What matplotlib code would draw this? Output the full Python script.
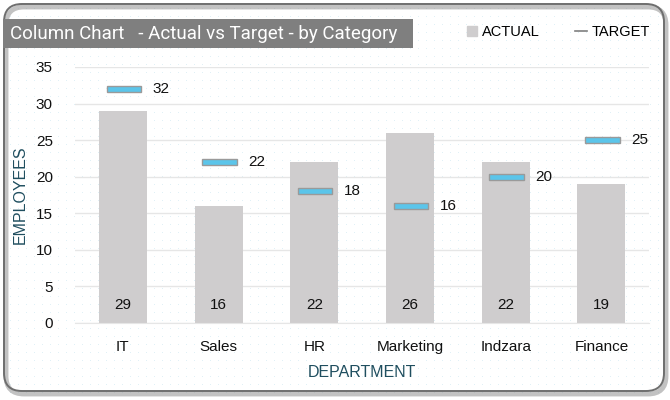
import matplotlib
matplotlib.use('Agg')
import matplotlib.pyplot as plt
import numpy as np
from matplotlib.patches import FancyBboxPatch, Rectangle
from matplotlib.lines import Line2D

departments = ['IT', 'Sales', 'HR', 'Marketing', 'Indzara', 'Finance']
actual = [29, 16, 22, 26, 22, 19]
target = [32, 22, 18, 16, 20, 25]
y_ticks = [0, 5, 10, 15, 20, 25, 30, 35]

bar_color = '#CFCDCE'
target_color = '#5BC5EA'
label_color = '#1F4E5F'

plt.rcParams['font.family'] = ['Liberation Sans', 'DejaVu Sans']


def main():
    fig = plt.figure(figsize=(6.7, 4.0), dpi=100)

    # dotted background
    bg = fig.add_axes([0, 0, 1, 1], zorder=-2)
    bg.set_xlim(0, 670)
    bg.set_ylim(400, 0)
    bg.axis('off')
    gx, gy = np.meshgrid(np.arange(10, 665, 8), np.arange(8, 395, 8))
    bg.scatter(gx.ravel(), gy.ravel(), s=0.25, color='#CDE8F2', linewidths=0)
    # shadow + rounded frame
    bg.add_patch(FancyBboxPatch((6, 7), 660, 387, boxstyle='round,pad=0,rounding_size=18',
                                facecolor='none', edgecolor='#9A9A9A', linewidth=3.5, alpha=0.6))
    bg.add_patch(FancyBboxPatch((4, 4), 660, 387, boxstyle='round,pad=0,rounding_size=18',
                                facecolor='none', edgecolor='#6E6E6E', linewidth=1.4))

    ax = fig.add_axes([0.112, 0.1925, 0.857, 0.64])
    ax.patch.set_alpha(0)
    x = np.arange(len(departments))
    ax.bar(x, actual, width=0.5, color=bar_color, zorder=2)
    for xi, v in zip(x, actual):
        ax.text(xi, 2.5, str(v), ha='center', va='center', fontsize=11, color='#111111', zorder=3)

    for xi, t in zip(x, target):
        ax.add_patch(Rectangle((xi - 0.17, t - 0.42), 0.36, 0.84, facecolor=target_color,
                               edgecolor='#9A9A9A', linewidth=1.0, zorder=4))
        ax.text(xi + 0.40, t, str(t), ha='center', va='center', fontsize=11, color='#111111', zorder=4)

    ax.set_xlim(-0.5, 5.5)
    ax.set_ylim(0, 35)
    ax.set_yticks(y_ticks)
    ax.set_xticks(x)
    ax.set_xticklabels(departments)
    ax.tick_params(axis='both', length=0, labelsize=11, colors='#111111')
    ax.tick_params(axis='x', pad=12)
    ax.tick_params(axis='y', pad=16)
    ax.grid(axis='y', color='#E6E6E6', linewidth=1, zorder=0)
    for s in ['top', 'right', 'left']:
        ax.spines[s].set_visible(False)
    ax.spines['bottom'].set_color('#E6E6E6')
    ax.set_ylabel('EMPLOYEES', fontsize=11.5, color=label_color)
    ax.yaxis.set_label_coords(-0.082, 0.5)
    ax.set_xlabel('DEPARTMENT', fontsize=11.5, color=label_color, labelpad=8)

    # title box
    fig.patches.append(Rectangle((3 / 670, 1 - 48 / 400), 410 / 670, 29 / 400,
                                 transform=fig.transFigure, facecolor='#7F7F7F',
                                 edgecolor='none', zorder=5))
    fig.text(10 / 670, 1 - 34 / 400, 'Column Chart   - Actual vs Target - by Category',
             fontsize=13.5, color='white', va='center', ha='left', zorder=6,
             family=['Roboto', 'DejaVu Sans'])

    handles = [Line2D([], [], marker='s', linestyle='none', markersize=7, color=bar_color),
               Line2D([], [], color='#7F7F7F', linewidth=1.2)]
    fig.legend(handles, ['ACTUAL', 'TARGET'], loc='center', bbox_to_anchor=(558 / 670, 1 - 32 / 400),
               ncol=2, frameon=False, fontsize=10.5, handlelength=0.8, handletextpad=0.3,
               columnspacing=2.4)

    plt.savefig('out.png', dpi=100)
    plt.close()


if __name__ == '__main__':
    main()
